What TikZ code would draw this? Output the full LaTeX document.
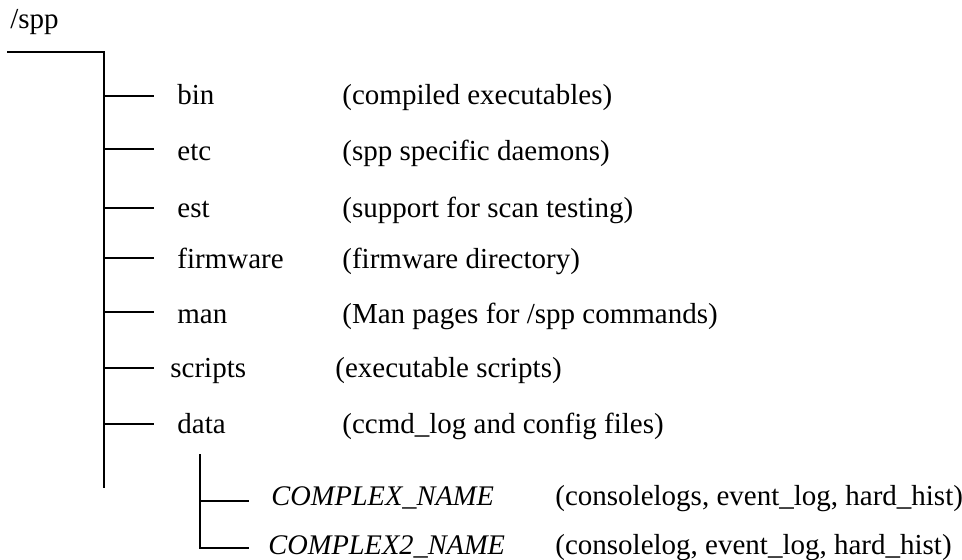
\documentclass[tikz,border=0pt]{standalone}
\usepackage{fontspec}
\setmainfont{Liberation Serif}
\begin{document}
\begin{tikzpicture}[x=0.5pt,y=-0.5pt,
  txt/.style={anchor=base west,inner sep=0pt,font=\fontsize{14.5}{17}\selectfont},
  itxt/.style={txt,font=\fontsize{14.2}{17}\selectfont\itshape},
  branch/.style={line width=1pt,line cap=rect}]
\useasboundingbox (0,0) rectangle (962,559);
\node[txt] (root) at (10,28) {/spp};
\coordinate (rootL) at (8,52);
\coordinate (trTop) at (104,52);
\coordinate (trBot) at (104,487);
\draw[branch] (rootL) -- (trTop) -- (trBot);
% main entries: name/ line y / baseline / name x / desc x / desc
\foreach \n/\ly/\bl/\nx/\dx/\d in {
  bin/96/104/177/342/{(compiled executables)},
  etc/149/160/177/342/{(spp specific daemons)},
  est/208/217/177/342/{(support for scan testing)},
  firmware/258/268/177/342/{(firmware directory)},
  man/312/323/177/342/{(Man pages for /spp commands)},
  scripts/368/377/170/335/{(executable scripts)},
  data/424/433/177/342/{(ccmd\_log and config files)}}{
  \node[txt] (\n) at (\nx,\bl) {\n};
  \node[txt] (\n-d) at (\dx,\bl) {\d};
  \coordinate (\n-a) at (104,\ly);
  \coordinate (\n-b) at (153,\ly);
  \draw[branch] (\n-a) -- (\n-b);
}
\coordinate (subTop) at (200,455);
\coordinate (c1a) at (200,501);
\coordinate (c1b) at (248,501);
\coordinate (c2a) at (200,548);
\coordinate (c2b) at (248,548);
\draw[branch] (subTop) -- (c2a) -- (c2b);
\draw[branch] (c1a) -- (c1b);
\node[itxt] (cx1) at (271,505) {COMPLEX\_NAME};
\node[itxt] (cx2) at (268,554) {COMPLEX2\_NAME};
\node[txt] (cx1-d) at (555,505) {(consolelogs, event\_log, hard\_hist)};
\node[txt] (cx2-d) at (555,554) {(consolelog, event\_log, hard\_hist)};
\end{tikzpicture}
\end{document}
